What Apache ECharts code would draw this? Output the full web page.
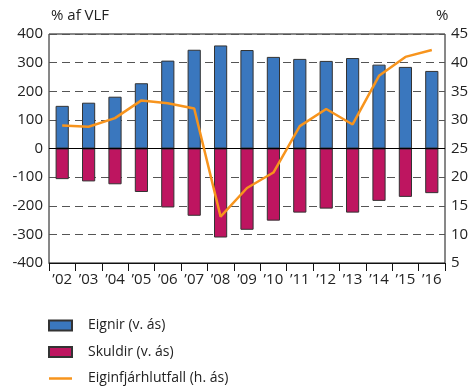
<!DOCTYPE html>
<html>
<head>
<meta charset="utf-8">
<script src="https://cdn.jsdelivr.net/npm/echarts@6/dist/echarts.min.js"></script>
<style>
  html, body { margin: 0; padding: 0; background: #fff; }
  #chart { width: 472px; height: 387px; }
</style>
</head>
<body>
<div id="chart"></div>
<script>
// Years on the category axis
const years = ['’02', '’03', '’04', '’05', '’06', '’07', '’08', '’09', '’10', '’11', '’12', '’13', '’14', '’15', '’16'];

// Assets and liabilities, % of GDP (left axis)
const eignir = [149, 160, 181, 228, 307, 345, 360, 344, 320, 313, 306, 316, 293, 285, 271];
const skuldir = [-107, -115, -125, -152, -206, -235, -311, -284, -252, -224, -210, -224, -183, -169, -156];

// Equity ratio, % (right axis)
const eiginfjar = [29.0, 28.8, 30.3, 33.4, 32.9, 32.0, 13.1, 18.1, 20.8, 28.9, 31.9, 29.2, 37.7, 41.0, 42.2];

const FONT = '"Open Sans", "Noto Sans", sans-serif';
const chart = echarts.init(document.getElementById('chart'));

chart.setOption({
  animation: false,
  textStyle: { fontFamily: FONT },
  grid: {
    left: 49, right: 27, top: 34, bottom: 124,
    show: true, borderColor: '#111', borderWidth: 1
  },
  graphic: [
    { type: 'text', left: 51, top: 8, style: { text: '% af VLF', font: '15px ' + FONT, fill: '#222' } },
    { type: 'text', left: 436, top: 8, style: { text: '%', font: '15px ' + FONT, fill: '#222' } }
  ],
  legend: {
    orient: 'vertical',
    left: 48, top: 318, padding: 0,
    itemWidth: 23, itemHeight: 10, itemGap: 11.5,
    symbolKeepAspect: true,
    textStyle: { fontSize: 14, lineHeight: 15, color: '#222', fontFamily: FONT, padding: [0, 0, 0, 11] },
    data: [
      { name: 'Eignir (v. ás)', icon: 'rect' },
      { name: 'Skuldir (v. ás)', icon: 'rect' },
      { name: 'Eiginfjárhlutfall (h. ás)', icon: 'path://M0,0 L23,0 L23,2.5 L0,2.5 Z' }
    ]
  },
  xAxis: {
    type: 'category',
    data: years,
    axisLine: { onZero: false, lineStyle: { color: '#111' } },
    axisTick: { show: true, length: 8, lineStyle: { color: '#111' } },
    axisLabel: { color: '#222', fontSize: 15, margin: 9 }
  },
  yAxis: [
    {
      type: 'value', min: -400, max: 400, interval: 100,
      axisLine: { show: false }, axisTick: { show: false },
      axisLabel: { color: '#222', fontSize: 15, margin: 6 },
      splitLine: { lineStyle: { color: '#555', type: [8, 5], width: 1.2 } }
    },
    {
      type: 'value', min: 5, max: 45, interval: 5,
      axisLine: { show: false }, axisTick: { show: false },
      axisLabel: { color: '#222', fontSize: 15, margin: 6 },
      splitLine: { show: false }
    }
  ],
  series: [
    {
      name: 'Eignir (v. ás)', type: 'bar', stack: 'efnahagur', data: eignir,
      barWidth: '50%',
      itemStyle: { color: '#3A77BE', borderColor: '#333', borderWidth: 1 },
      markLine: {
        silent: true, symbol: 'none', label: { show: false },
        lineStyle: { color: '#000', type: 'solid', width: 1.2 },
        data: [{ yAxis: 0 }]
      }
    },
    {
      name: 'Skuldir (v. ás)', type: 'bar', stack: 'efnahagur', data: skuldir,
      barWidth: '50%',
      itemStyle: { color: '#BE1560', borderColor: '#333', borderWidth: 1 }
    },
    {
      name: 'Eiginfjárhlutfall (h. ás)', type: 'line', yAxisIndex: 1, data: eiginfjar,
      symbol: 'none',
      lineStyle: { color: '#F7941D', width: 2.5 },
      itemStyle: { color: '#F7941D' },
      z: 5
    }
  ]
});
</script>
</body>
</html>
